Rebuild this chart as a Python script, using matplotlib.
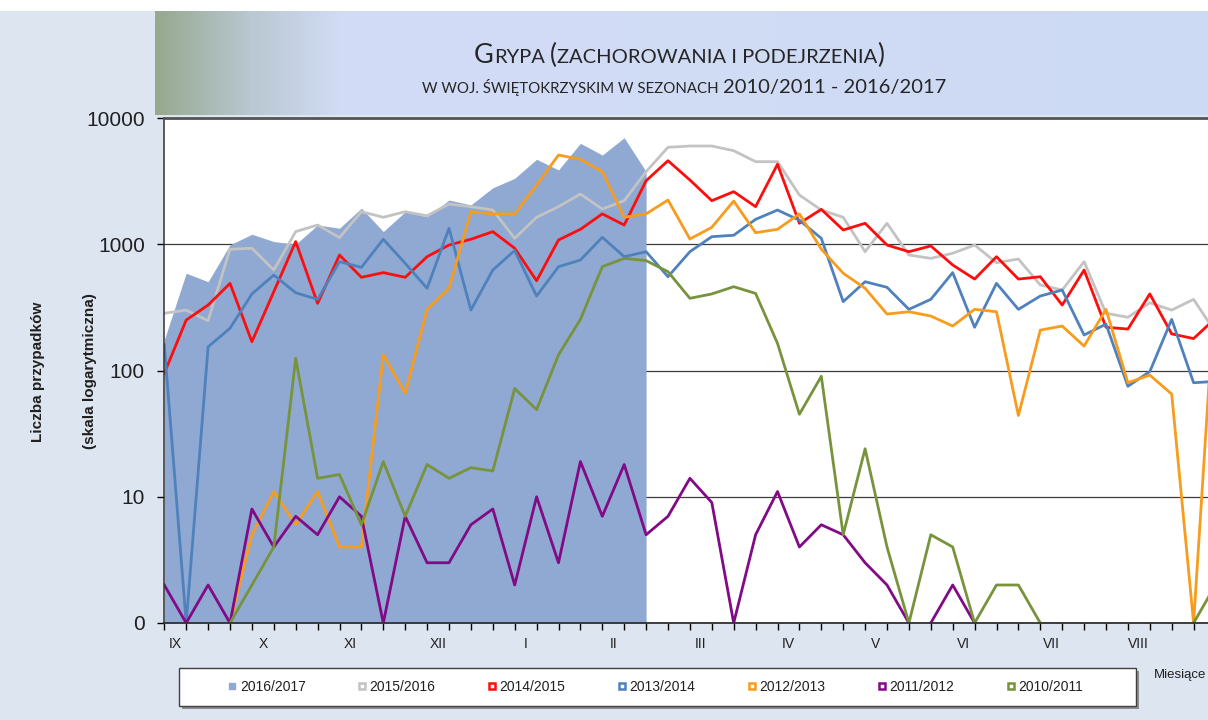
import numpy as np
import matplotlib
matplotlib.use("Agg")
import matplotlib.pyplot as plt
from matplotlib.patches import Rectangle
from matplotlib.lines import Line2D
from matplotlib.colors import LinearSegmentedColormap
from matplotlib import font_manager

# ---------------- data ----------------
months = ["IX", "X", "XI", "XII", "I", "II", "III", "IV", "V", "VI", "VII", "VIII"]
season_labels = ["2016/2017", "2015/2016", "2014/2015", "2013/2014",
                 "2012/2013", "2011/2012", "2010/2011"]

s2016_2017 = [175, 590, 505, 990, 1200, 1050, 1000, 1420, 1340, 1930, 1260, 1810,
              1650, 2240, 2050, 2800, 3330, 4710, 3880, 6300, 5090, 6980, 3760]
s2015_2016 = [284, 301, 248, 912, 930, 625, 1260, 1420, 1130, 1810,
              1635, 1810, 1680, 2085, 1985, 1866, 1114, 1635, 1985, 2500,
              1900, 2213, 3760, 5860, 6000, 6000, 5510, 4510, 4510, 2455,
              1866, 1635, 873, 1466, 822, 773, 848, 986, 714, 764,
              476, 434, 728, 284, 264, 344, 301, 366, 200]
s2014_2015 = [95, 251, 330, 490, 169, 421, 1050, 340, 822, 547,
              596, 547, 797, 986, 1095, 1258, 930, 514, 1081, 1313,
              1740, 1420, 3185, 4590, 3227, 2213, 2610, 1985, 4300, 1466,
              1890, 1297, 1466, 986, 873, 970, 685, 530, 797, 530,
              553, 330, 625, 220, 213, 404, 195, 179, 260]
s2013_2014 = [160, 0, 154, 216, 404, 570, 413, 366, 728, 656,
              1095, 706, 448, 1337, 301, 625, 892, 389, 664, 750,
              1135, 797, 873, 553, 873, 1148, 1178, 1575, 1866, 1550,
              1114, 351, 505, 456, 305, 366, 596, 220, 490, 305,
              389, 434, 191, 233, 75, 98, 254, 80, 82]
s2012_2013 = [0, 0, 0, 0, 5, 11, 6, 11, 4, 4,
              133, 66, 305, 448, 1812, 1740, 1740, 2944, 5090, 4710,
              3760, 1635, 1740, 2240, 1100, 1362, 2200, 1235, 1313, 1740,
              915, 589, 448, 280, 292, 270, 225, 305, 292, 44,
              209, 225, 156, 305, 80, 92, 65, 0, 500]
s2011_2012 = [2, 0, 2, 0, 8, 4, 7, 5, 10, 7,
              0, 7, 3, 3, 6, 8, 2, 10, 3, 19,
              7, 18, 5, 7, 14, 9, 0, 5, 11, 4,
              6, 5, 3, 2, 0, 0, 2, 0, 0, 0,
              0, 0, 0, 0, 0, 0, 0, 0, 0]
s2010_2011 = [0, 0, 0, 0, 2, 4, 125, 14, 15, 6,
              19, 7, 18, 14, 17, 16, 72, 49, 133, 254,
              664, 773, 742, 606, 373, 404, 461, 408, 164, 45,
              90, 5, 24, 4, 0, 5, 4, 0, 2, 2,
              0, 0, 0, 0, 0, 0, 0, 0, 2]

y_ticks = [1, 10, 100, 1000, 10000]
y_ticklabels = ["0", "10", "100", "1000", "10000"]

# ---------------- styles ----------------
area_color = "#8fa9d2"
line_series = [s2015_2016, s2014_2015, s2013_2014, s2012_2013, s2011_2012, s2010_2011]
line_colors = ["#c3c3c3", "#ff0d0d", "#4f81bd", "#f79c1c", "#820a86", "#77933c"]

names = {f.name for f in font_manager.fontManager.ttflist}
SANS = "Liberation Sans" if "Liberation Sans" in names else "DejaVu Sans"
NARROW = "Liberation Sans Narrow" if "Liberation Sans Narrow" in names else SANS
TITLE = "Lato" if "Lato" in names else SANS

W, H = 1208, 720
fig = plt.figure(figsize=(W / 100, H / 100), dpi=100)
fig.patch.set_facecolor("#dde5f1")


def fx(px):
    return px / W


def fy(py):
    return 1 - py / H


# white strip at the very top
fig.patches.append(Rectangle((0, fy(11)), 1, 11 / H, transform=fig.transFigure,
                             facecolor="white", edgecolor="none", zorder=0))

# title band with gradient
band = fig.add_axes([fx(155), fy(115), 1 - fx(155), (115 - 11) / H])
band.axis("off")
cmap = LinearSegmentedColormap.from_list(
    "band", [(0, "#97a98f"), (0.09, "#b9c8d2"), (0.18, "#d3dcf6"), (1, "#cddaf3")])
band.imshow(np.linspace(0, 1, 512)[None, :], aspect="auto", cmap=cmap,
            extent=[0, 1, 0, 1])

# ---------------- main axes ----------------
px_per_week = 21.9
xmax = 51
ax = fig.add_axes([fx(164.3), fy(623), xmax * px_per_week / W, (623 - 118) / H])
ax.set_facecolor("white")
ax.set_yscale("log")
ax.set_ylim(1, 10000)
ax.set_xlim(0, xmax)

ax.set_yticks(y_ticks)
ax.set_yticklabels(y_ticklabels)
ax.yaxis.set_minor_locator(matplotlib.ticker.NullLocator())
ax.tick_params(axis="y", which="major", length=5, width=1, direction="out",
               pad=9, labelsize=15, labelcolor="#202020")
for lab in ax.get_yticklabels():
    lab.set_family(SANS)

ax.set_xticks(np.arange(0, xmax + 1))
ax.set_xticklabels([])
ax.set_xticks(0.5 + 4 * np.arange(len(months)), minor=True)
ax.set_xticklabels(months, minor=True)
ax.tick_params(axis="x", which="major", length=5, width=1, direction="out")
ax.tick_params(axis="x", which="minor", length=0, pad=10, labelsize=10,
               labelcolor="#202020")
for lab in ax.get_xticklabels(minor=True):
    lab.set_family(NARROW)

ax.set_axisbelow(True)
ax.yaxis.grid(True, which="major", color="#3c3c3c", lw=0.9)
ax.xaxis.grid(False)

for side in ["top", "bottom", "left", "right"]:
    ax.spines[side].set_color("#303030")
ax.spines["top"].set_color("#555555")
ax.spines["top"].set_linewidth(2)
ax.spines["bottom"].set_linewidth(1.3)
ax.spines["left"].set_linewidth(1.1)

# area series
a = np.array(s2016_2017, dtype=float)
ax.fill_between(np.arange(len(a)), 1, a, color=area_color, lw=0, zorder=1)


def segments(vals):
    xs, ys = [], []
    for i, v in enumerate(vals):
        xs.append(i)
        ys.append(max(v, 1))
        if i < len(vals) - 1 and v == 0 and vals[i + 1] == 0:
            xs.append(np.nan)
            ys.append(np.nan)
    return np.array(xs, float), np.array(ys, float)


for vals, c in zip(line_series, line_colors):
    xs, ys = segments(vals)
    ax.plot(xs, ys, color=c, lw=2.0, zorder=2, solid_joinstyle="round")

# ---------------- y label ----------------
fig.text(fx(38), fy(372), "Liczba przypadków", rotation=90, ha="center",
         va="center", fontsize=11, fontweight="bold", family=SANS, color="#202020")
fig.text(fx(90), fy(371), "(skala logarytmiczna)", rotation=90, ha="center",
         va="center", fontsize=11, fontweight="bold", family=SANS, color="#202020")

fig.text(fx(1206), fy(675), "Miesiące", ha="right", va="center", fontsize=9.5,
         family=SANS, color="#202020")

# ---------------- legend ----------------
fig.patches.append(Rectangle((fx(182), fy(709)), (1136 - 179) / W, 38 / H,
                             transform=fig.transFigure, facecolor="#8c8c8c",
                             edgecolor="none", zorder=1))
fig.patches.append(Rectangle((fx(179), fy(706)), (1136 - 179) / W, 38 / H,
                             transform=fig.transFigure, facecolor="white",
                             edgecolor="#404040", lw=1, zorder=2))

handles = [Line2D([], [], ls="none", marker="s", markersize=5,
                  markerfacecolor=area_color, markeredgecolor=area_color)]
for c in line_colors:
    handles.append(Line2D([], [], ls="none", marker="s", markersize=5,
                          markerfacecolor="white", markeredgecolor=c,
                          markeredgewidth=1.8))
leg = fig.legend(handles, season_labels, loc="center",
                 bbox_to_anchor=(fx(228), fy(706), (1083 - 228) / W, 38 / H),
                 mode="expand", ncol=7, frameon=False, handlelength=0.6,
                 handletextpad=0.25, borderaxespad=0, borderpad=0,
                 prop={"family": SANS, "size": 10})
leg.set_zorder(5)
for t in leg.get_texts():
    t.set_color("#202020")

# ---------------- title (small caps imitation) ----------------
renderer = fig.canvas.get_renderer()


def draw_line(segs, cx, base_y):
    texts, widths = [], []
    for s, size in segs:
        if s is None:
            texts.append(None)
            widths.append(size)
            continue
        t = fig.text(0, 0, s, fontsize=size, family=TITLE, va="baseline",
                     ha="left", color="#262626")
        widths.append(t.get_window_extent(renderer).width)
        texts.append(t)
    total = sum(widths)
    x = cx - total / 2
    for t, w in zip(texts, widths):
        if t is not None:
            t.set_position((fx(x), fy(base_y)))
        x += w


draw_line([("G", 19.5), ("RYPA", 14.5), (None, 5), ("(", 19),
           ("ZACHOROWANIA I PODEJRZENIA", 14.5), (")", 19)], 679, 63)
draw_line([("W WOJ. ŚWIĘTOKRZYSKIM W SEZONACH", 10.8), (None, 5),
           ("2010/2011 - 2016/2017", 14.5)], 684, 93)

fig.savefig("out.png", dpi=100, facecolor=fig.get_facecolor())
